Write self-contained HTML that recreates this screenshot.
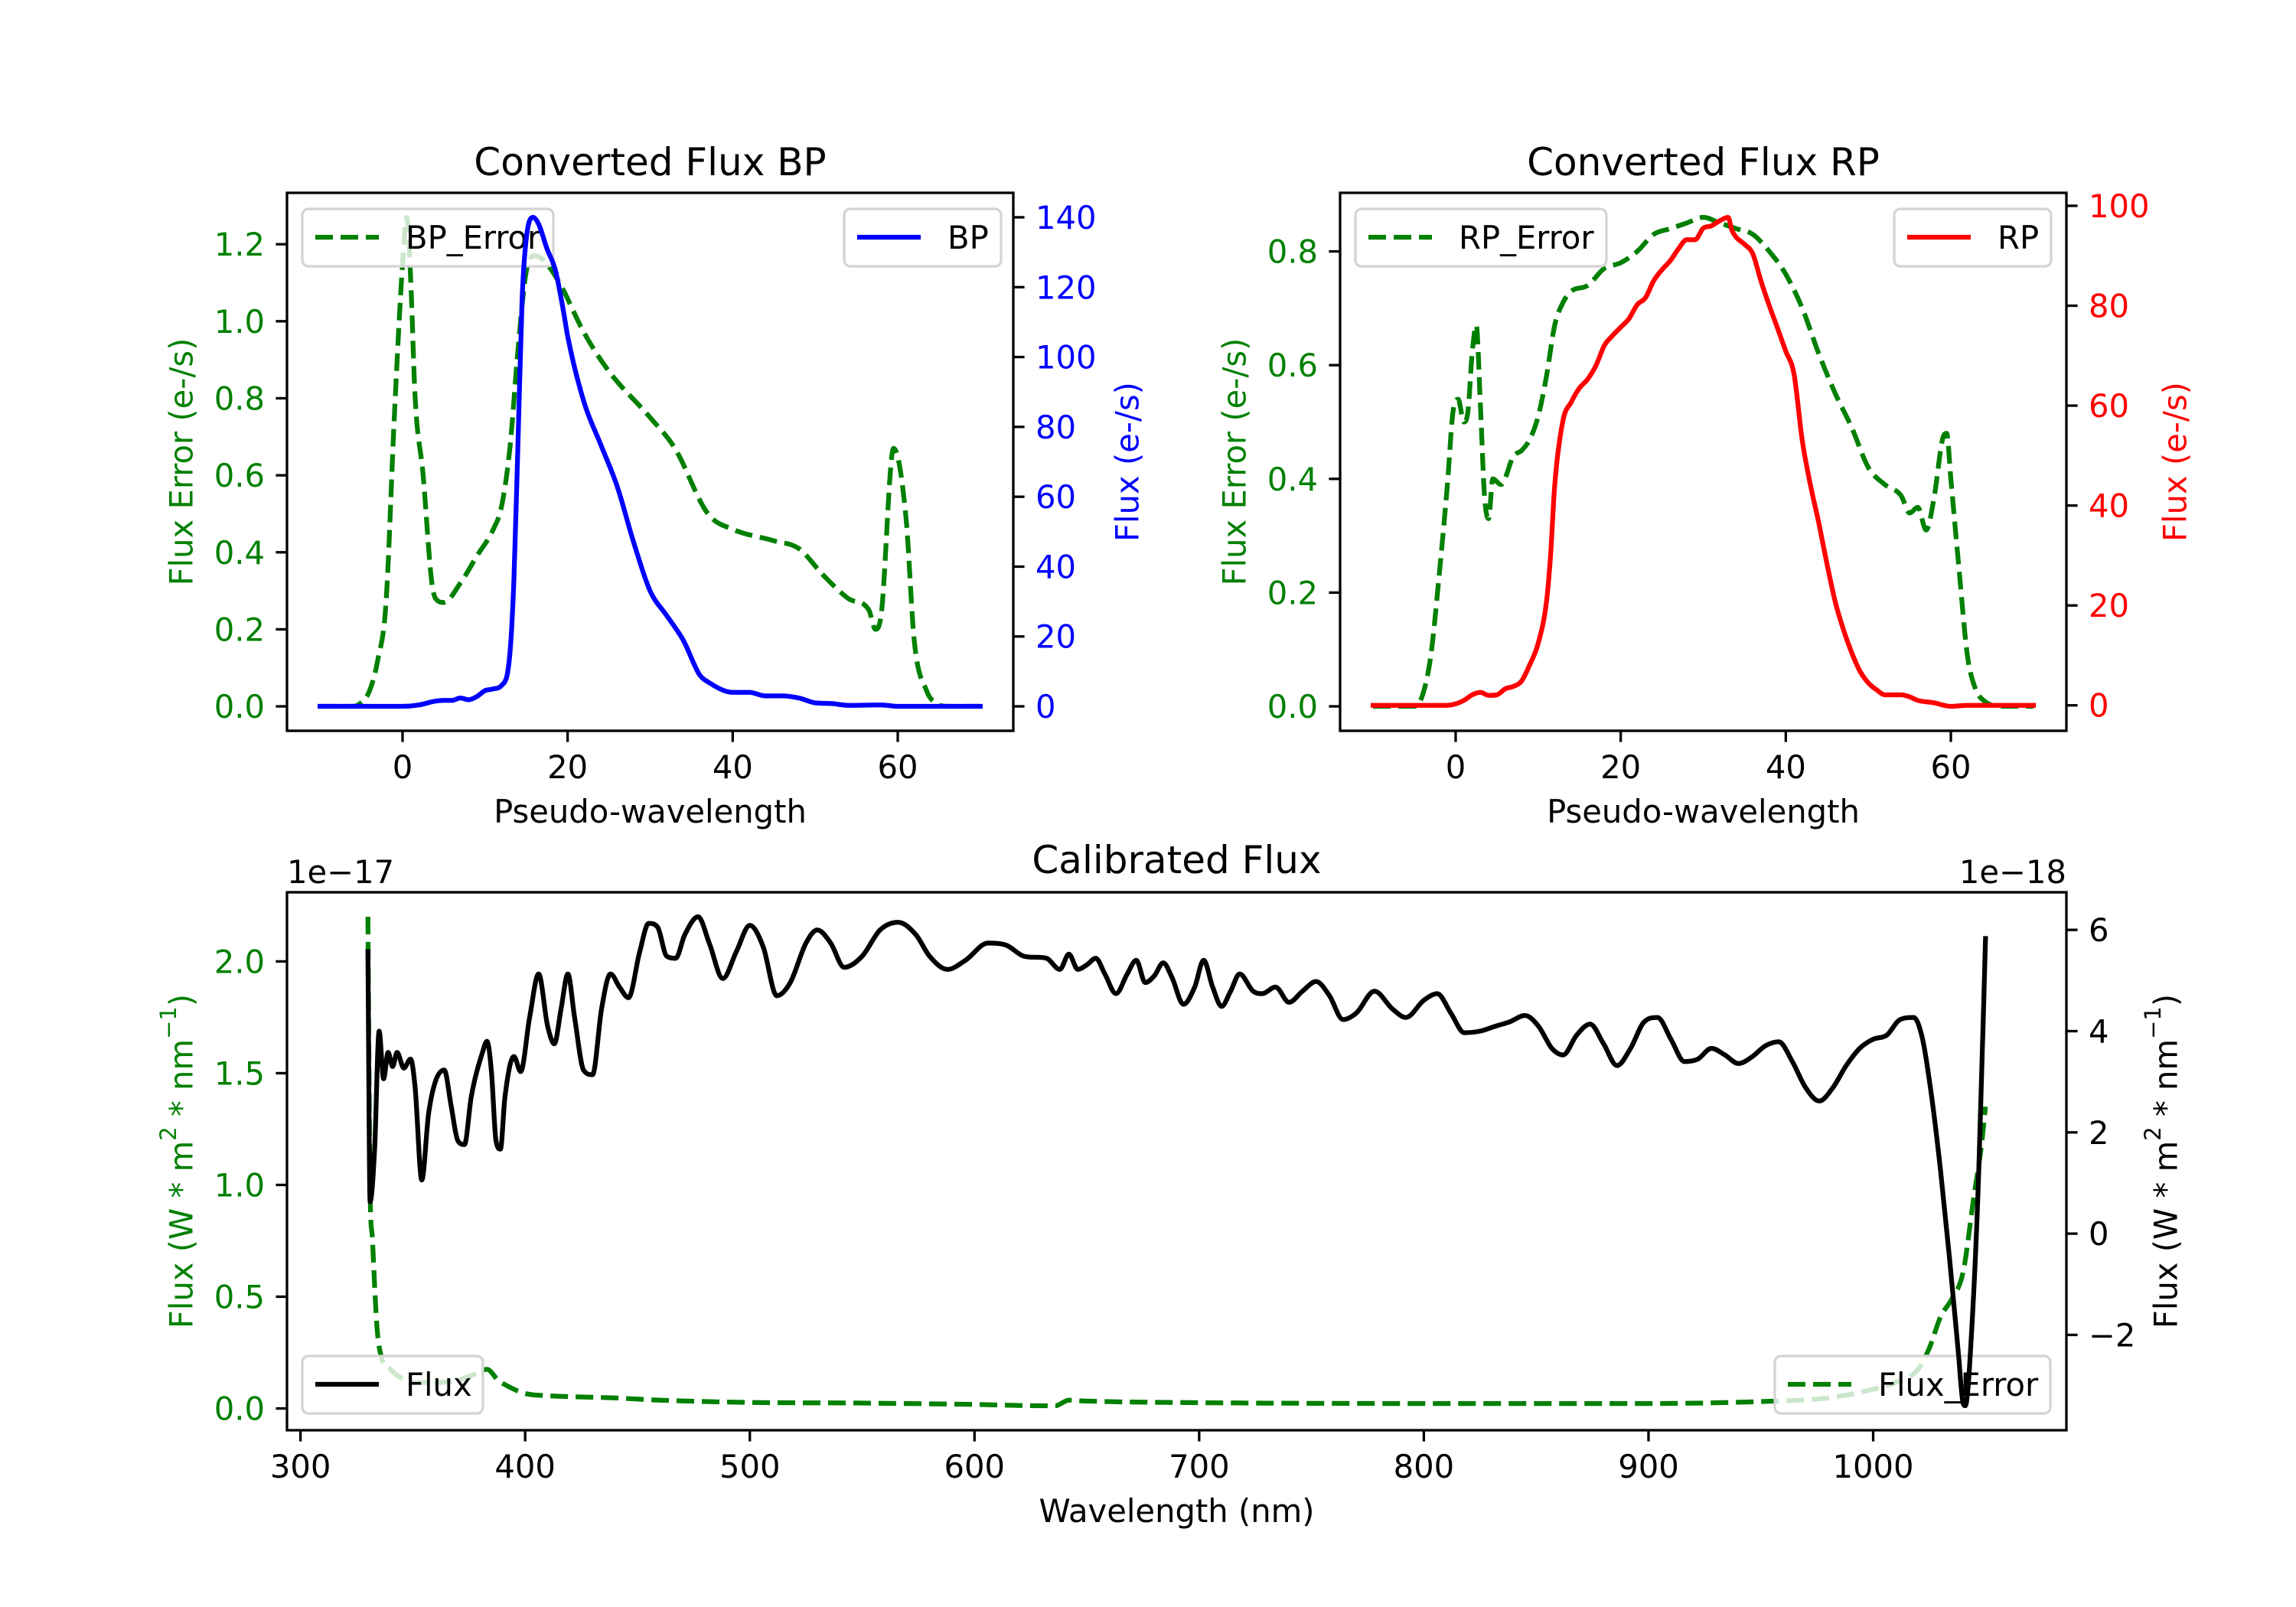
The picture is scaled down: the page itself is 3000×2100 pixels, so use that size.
<!DOCTYPE html>
<html><head><meta charset="utf-8"><style>
html,body{margin:0;padding:0;background:#fff;}
svg{display:block;font-family:"DejaVu Sans","Liberation Sans",sans-serif;}
</style></head><body>
<svg id="fig" width="3000" height="2100" viewBox="0 0 3000 2100" xmlns="http://www.w3.org/2000/svg"></svg>
<script>
// ---------- BP data ----------
const bpErrX = [-10,-8,-6,-5,-4,-3,-2,-1,0,0.5,1,1.5,2.5,3.5,4,5,7,9,11,12,13,14,15,16,17,19,22,25,30,33,37,40,45,48,51,54,56.5,57.3,58,59.5,61,62,63.5,64.5,66,70];
const bpErrY = [0,0,0,0.01,0.04,0.12,0.27,0.75,1.15,1.27,1.1,0.81,0.6,0.33,0.28,0.27,0.32,0.39,0.46,0.52,0.67,0.93,1.13,1.17,1.16,1.10,0.97,0.87,0.75,0.67,0.50,0.46,0.43,0.41,0.34,0.28,0.25,0.20,0.24,0.67,0.49,0.17,0.04,0.01,0,0];
const bpX = [-10,-4,0,2,4,5,6,7,8,9,10,11,12,13,13.5,14,14.5,15,15.8,16.5,17.5,18.5,19.5,20,22,24,26,28,30,32,34,36,37,40,42,44,46,48,50,52,54,58,60,70];
const bpY = [0,0,0,0.4,1.5,1.7,1.7,2.4,1.9,2.8,4.5,5,6,15,37,77,117,134,140,138,131,125,113,106,87,75,63,47,33,26,19,9,7,4,4,3,3,2.4,1,0.8,0.3,0.4,0,0];
// ---------- RP data ----------
const rpErrX = [-10,-5,-4,-3,-2,-1,-0.3,0.3,1,1.5,2,2.5,3,3.5,4,4.5,5.5,7,8,9,10,11,12,13,14,16,18,20,22,24,26,28,30,32,34,36,38,40,42,44,46,48,50,52,54,55,56,57,58,59,59.5,60,61,62,63,64,66,70];
const rpErrY = [0,0,0.02,0.09,0.23,0.39,0.52,0.54,0.50,0.52,0.62,0.67,0.53,0.37,0.33,0.40,0.39,0.44,0.45,0.47,0.51,0.58,0.67,0.71,0.73,0.74,0.77,0.78,0.80,0.83,0.84,0.85,0.86,0.85,0.84,0.83,0.80,0.76,0.70,0.62,0.55,0.49,0.42,0.39,0.37,0.34,0.35,0.31,0.37,0.47,0.48,0.40,0.24,0.09,0.03,0.01,0,0];
const rpX = [-10,-1,0,1,2,3,4,5,6,7,8,9,10,11,11.5,12,13,14,15,16,17,18,19,20,21,22,23,24,25,26,27,28,29,30,31,32,33,33.5,34,35,36,37,38,39,40,41,42,43,44,45,46,47,48,49,50,51,52,53,54,55,56,58,60,62,70];
const rpY = [0,0,0.3,1,2.1,2.6,2,2.1,3.3,3.8,4.9,8.2,12.4,20.7,30,44,57,60.7,63.5,65.3,68,72,74,75.7,77.4,80.2,81.6,85,87.2,89,91.4,93.2,93.2,95.5,96,97,97.7,95,93.7,92.3,90.4,84.9,80,75.5,70.9,66.3,53,44,36.5,28.2,20.7,15.1,10.5,6.8,4.5,3.1,2.1,2.1,2.1,1.7,1,0.5,-0.2,0,0];
// ---------- Calibrated data (flux in 1e-18, error in 1e-17) ----------
const calX = [330,331,333,335,337,339,341,343,346,349,351,354,357,360,364,367,370,373,376,381,383,385,387,389,391,395,398,402,406,410,413,416,419,422,426,430,434,438,442,446,451,455,459,463,467,471,477,482,488,494,500,506,512,518,525,530,536,542,550,558,566,574,580,588,596,606,614,622,632,638,642,646,650,654,658,663,668,672,676,680,684,688,693,698,702,706,710,714,718,724,728,734,740,746,752,758,764,770,778,786,792,800,806,812,818,825,832,838,845,851,857,862,868,874,880,886,892,898,904,910,916,922,928,934,940,946,952,958,964,970,976,982,988,994,1000,1006,1012,1018,1022,1026,1030,1034,1038,1040,1041,1044,1047,1050];
const calFlux = [5.57,0.63,1.67,4.0,3.06,3.58,3.3,3.58,3.27,3.45,2.9,1.06,2.36,3.0,3.23,2.54,1.84,1.76,2.7,3.58,3.8,3.2,1.84,1.67,2.7,3.5,3.2,4.27,5.13,4.1,3.75,4.44,5.13,4.27,3.23,3.14,4.44,5.13,4.87,4.66,5.57,6.13,6.05,5.48,5.44,5.9,6.26,5.73,5.04,5.57,6.09,5.66,4.7,4.96,5.74,6.0,5.74,5.26,5.48,6.0,6.15,5.9,5.48,5.22,5.4,5.74,5.7,5.48,5.44,5.22,5.52,5.22,5.31,5.44,5.13,4.74,5.13,5.4,4.96,5.09,5.35,5.05,4.53,4.87,5.4,4.87,4.49,4.79,5.13,4.79,4.74,4.87,4.57,4.79,4.98,4.7,4.23,4.36,4.79,4.44,4.27,4.61,4.74,4.36,3.97,4.0,4.1,4.18,4.31,4.1,3.66,3.53,3.92,4.14,3.75,3.32,3.66,4.18,4.27,3.84,3.4,3.45,3.66,3.53,3.36,3.49,3.71,3.79,3.4,2.88,2.62,2.88,3.32,3.66,3.84,3.92,4.23,4.27,3.84,2.71,1.24,-0.49,-2.4,-3.35,-3.4,-1.79,1.24,5.83];
const errX = [330,331,332,334,336,340,345,350,360,370,378,383,388,393,400,410,420,440,460,500,550,600,630,636,642,650,700,800,900,950,980,1000,1010,1020,1025,1030,1035,1040,1045,1048,1050];
const errY = [2.2,0.96,0.76,0.37,0.23,0.175,0.135,0.116,0.116,0.126,0.155,0.175,0.126,0.096,0.067,0.057,0.053,0.047,0.037,0.027,0.024,0.018,0.012,0.012,0.037,0.033,0.026,0.022,0.022,0.031,0.047,0.086,0.116,0.175,0.27,0.41,0.49,0.61,0.96,1.16,1.35];
// ---------- ticks ----------
const bpXTicks = [0,20,40,60];
const bpLTicks = [0,0.2,0.4,0.6,0.8,1.0,1.2];
const bpRTicks = [0,20,40,60,80,100,120,140];
const rpXTicks = [0,20,40,60];
const rpLTicks = [0,0.2,0.4,0.6,0.8];
const rpRTicks = [0,20,40,60,80,100];
const calXTicks = [300,400,500,600,700,800,900,1000];
const calLTicks = [0,0.5,1.0,1.5,2.0];
const calRTicks = [-2,0,2,4,6];

const NS='http://www.w3.org/2000/svg';
const svg=document.getElementById('fig');
function mk(tag,attrs,parent){const e=document.createElementNS(NS,tag);for(const k in attrs)e.setAttribute(k,attrs[k]);(parent||svg).appendChild(e);return e;}
function txt(s,attrs,parent){const e=mk('text',attrs,parent);e.textContent=s;return e;}
function scale(d0,d1,p0,p1){return v=>p0+(v-d0)/(d1-d0)*(p1-p0);}
function pad(lo,hi){const r=hi-lo;return [lo-0.05*r,hi+0.05*r];}
function mn(a){return Math.min.apply(null,a);} function mx(a){return Math.max.apply(null,a);}
const FS=41.7, LW=6.25;
// monotone cubic path
function smoothPath(P){
  const n=P.length; if(n<3) return 'M'+P.map(p=>p[0].toFixed(1)+','+p[1].toFixed(1)).join(' L');
  const d=[],m=[];
  for(let i=0;i<n-1;i++){const dx=P[i+1][0]-P[i][0];d.push(dx===0?0:(P[i+1][1]-P[i][1])/dx);}
  m[0]=d[0]; m[n-1]=d[n-2];
  for(let i=1;i<n-1;i++){ if(d[i-1]*d[i]<=0) m[i]=0; else { m[i]=(d[i-1]+d[i])/2; const a=m[i]/d[i-1],b=m[i]/d[i],s=a*a+b*b; if(s>9){const t=3/Math.sqrt(s);m[i]=t*a*d[i-1];} } }
  let s='M'+P[0][0].toFixed(1)+','+P[0][1].toFixed(1);
  for(let i=0;i<n-1;i++){const h=(P[i+1][0]-P[i][0])/3;
    s+=' C'+(P[i][0]+h).toFixed(1)+','+(P[i][1]+m[i]*h).toFixed(1)+' '+(P[i+1][0]-h).toFixed(1)+','+(P[i+1][1]-m[i+1]*h).toFixed(1)+' '+P[i+1][0].toFixed(1)+','+P[i+1][1].toFixed(1);}
  return s;
}
function line(xs,ys,sx,sy,color,dashed,name,parent){
  const P=xs.map((x,i)=>[sx(x),sy(ys[i])]);
  const p=mk('path',{d:smoothPath(P),fill:'none',stroke:color,'stroke-width':LW,'stroke-linejoin':'round','stroke-linecap':dashed?'butt':'square'},parent);
  if(dashed)p.setAttribute('stroke-dasharray','23 10');
  
  
  return p;
}
function legend(x,y,w,label,color,dashed,name){
  const g=mk('g',{});
  
  
  mk('rect',{x:x,y:y,width:w,height:75,rx:8,fill:'#fff','fill-opacity':0.8,stroke:'#d4d4d4','stroke-width':3.3},g);
  const l=mk('line',{x1:x+17,y1:y+37,x2:x+100,y2:y+37,stroke:color,'stroke-width':LW},g);
  if(dashed)l.setAttribute('stroke-dasharray','23 10');
  txt(label,{x:x+135,y:y+52,'font-size':FS,fill:'#000'},g);
}
function axisFrame(L,T,R,B,name){
  const r=mk('rect',{x:L,y:T,width:R-L,height:B-T,fill:'none',stroke:'#000','stroke-width':3.3});
  
  
}
function xTicks(ticks,sx,B,fmt,name){
  const g=mk('g',{});
  ticks.forEach(t=>{const x=sx(t);mk('line',{x1:x,y1:B,x2:x,y2:B+14.6,stroke:'#000','stroke-width':3.3},g);
    txt(fmt(t),{x:x,y:B+62,'font-size':FS,'text-anchor':'middle',fill:'#000'},g);});
}
function yTicks(ticks,sy,X,side,color,fmt,name){
  const g=mk('g',{});
  ticks.forEach(t=>{const y=sy(t);const d=side==='l'?-14.6:14.6;
    mk('line',{x1:X,y1:y,x2:X+d,y2:y,stroke:'#000','stroke-width':3.3},g);
    txt(fmt(t),{x:side==='l'?X-29:X+29,y:y+15,'font-size':FS,'text-anchor':side==='l'?'end':'start',fill:color},g);});
}
function vlabel(s,x,y,color,name){const e=txt(s,{x:x,y:y,'font-size':FS,'text-anchor':'middle','dominant-baseline':'central',fill:color,transform:`rotate(-90 ${x} ${y})`});return e;}
function label(s,x,y,size,anchor,name){const e=txt(s,{x:x,y:y,'font-size':size,'text-anchor':anchor,fill:'#000'});return e;}
const f1=v=>v.toFixed(1), f0=v=>String(v).replace('-','\u2212');
const G='#008000';

// ===== BP =====
(function(){
  const L=375,R=1324,T=252,B=955;
  const xr=pad(mn(bpErrX.concat(bpX)),mx(bpErrX.concat(bpX)));
  const sx=scale(xr[0],xr[1],L,R);
  const ly=pad(mn(bpErrY),mx(bpErrY)), ry=pad(mn(bpY),mx(bpY));
  const syl=scale(ly[0],ly[1],B,T), syr=scale(ry[0],ry[1],B,T);
  label('Converted Flux BP',(L+R)/2,229,50,'middle','bp-title');
  line(bpErrX,bpErrY,sx,syl,G,true,'bp-error-line');
  legend(395,273,328,'BP_Error',G,true,'bp-error-legend');
  line(bpX,bpY,sx,syr,'#0000ff',false,'bp-flux-line');
  legend(1103,273,205,'BP','#0000ff',false,'bp-legend');
  axisFrame(L,T,R,B,'bp-axes');
  xTicks(bpXTicks,sx,B,f0,'bp-x-ticks');
  yTicks(bpLTicks,syl,L,'l',G,f1,'bp-left-ticks');
  yTicks(bpRTicks,syr,R,'r','#0000ff',f0,'bp-right-ticks');
  label('Pseudo-wavelength',(L+R)/2,1075,FS,'middle','bp-x-axis-title');
  vlabel('Flux Error (e-/s)',237,(T+B)/2,G,'bp-left-axis-title');
  vlabel('Flux (e-/s)',1473,(T+B)/2,'#0000ff','bp-right-axis-title');
})();
// ===== RP =====
(function(){
  const L=1751,R=2700,T=252,B=955;
  const xr=pad(mn(rpErrX.concat(rpX)),mx(rpErrX.concat(rpX)));
  const sx=scale(xr[0],xr[1],L,R);
  const ly=pad(mn(rpErrY),mx(rpErrY)), ry=pad(mn(rpY),mx(rpY));
  const syl=scale(ly[0],ly[1],B,T), syr=scale(ry[0],ry[1],B,T);
  label('Converted Flux RP',(L+R)/2,229,50,'middle','rp-title');
  line(rpErrX,rpErrY,sx,syl,G,true,'rp-error-line');
  legend(1771,273,328,'RP_Error',G,true,'rp-error-legend');
  line(rpX,rpY,sx,syr,'#ff0000',false,'rp-flux-line');
  legend(2475,273,205,'RP','#ff0000',false,'rp-legend');
  axisFrame(L,T,R,B,'rp-axes');
  xTicks(rpXTicks,sx,B,f0,'rp-x-ticks');
  yTicks(rpLTicks,syl,L,'l',G,f1,'rp-left-ticks');
  yTicks(rpRTicks,syr,R,'r','#ff0000',f0,'rp-right-ticks');
  label('Pseudo-wavelength',(L+R)/2,1075,FS,'middle','rp-x-axis-title');
  vlabel('Flux Error (e-/s)',1613,(T+B)/2,G,'rp-left-axis-title');
  vlabel('Flux (e-/s)',2842,(T+B)/2,'#ff0000','rp-right-axis-title');
})();
// ===== Calibrated =====
(function(){
  const L=375,R=2700,T=1166,B=1869;
  const xr=pad(mn(calX.concat(errX)),mx(calX.concat(errX)));
  const sx=scale(xr[0],xr[1],L,R);
  const ly=pad(mn(errY),mx(errY)), ry=pad(mn(calFlux),mx(calFlux));
  const syl=scale(ly[0],ly[1],B,T), syr=scale(ry[0],ry[1],B,T);
  label('Calibrated Flux',(L+R)/2,1141,50,'middle','calibrated-title');
  label('1e\u221217',L,1154,FS,'start','left-offset-label');
  label('1e\u221218',R,1154,FS,'end','right-offset-label');
  line(errX,errY,sx,syl,G,true,'flux-error-line');
  legend(2319,1772,360,'Flux_Error',G,true,'flux-error-legend');
  line(calX,calFlux,sx,syr,'#000',false,'flux-line');
  legend(395,1772,236,'Flux','#000',false,'flux-legend');
  axisFrame(L,T,R,B,'calibrated-axes');
  xTicks(calXTicks,sx,B,f0,'calibrated-x-ticks');
  yTicks(calLTicks,syl,L,'l',G,f1,'calibrated-left-ticks');
  yTicks(calRTicks,syr,R,'r','#000',f0,'calibrated-right-ticks');
  label('Wavelength (nm)',(L+R)/2,1989,FS,'middle','calibrated-x-axis-title');
  const a=vlabel('',237,(T+B)/2,G,'calibrated-left-axis-title');
  a.innerHTML='Flux (W * m<tspan baseline-shift="super" font-size="29">2</tspan> * nm<tspan baseline-shift="super" font-size="29">\u22121</tspan>)';
  const b=vlabel('',2830,(T+B)/2,'#000','calibrated-right-axis-title');
  b.innerHTML='Flux (W * m<tspan baseline-shift="super" font-size="29">2</tspan> * nm<tspan baseline-shift="super" font-size="29">\u22121</tspan>)';
})();
</script>
</body></html>
